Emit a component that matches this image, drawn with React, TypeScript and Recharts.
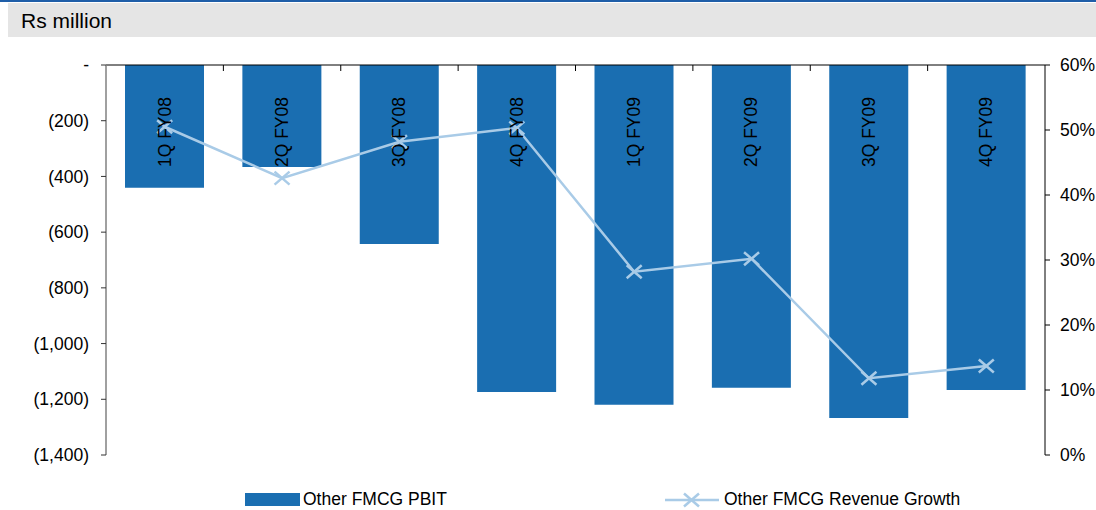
import React from 'react'
import {
  ComposedChart,
  Bar,
  Line,
  XAxis,
  YAxis,
  Legend,
  LabelList,
} from 'recharts'

const quarters = ['1Q FY08', '2Q FY08', '3Q FY08', '4Q FY08', '1Q FY09', '2Q FY09', '3Q FY09', '4Q FY09']
const pbit = [-441, -366, -643, -1174, -1220, -1159, -1267, -1167]
const revenueGrowth = [50.5, 42.6, 48.2, 50.3, 28.2, 30.2, 11.8, 13.7]
const leftTicks = [-1400, -1200, -1000, -800, -600, -400, -200, 0]
const rightTicks = [0, 10, 20, 30, 40, 50, 60]

const data = quarters.map((name, i) => ({
  name,
  pbit: pbit[i],
  growth: revenueGrowth[i],
}))

const BAR_BLUE = '#1a6eb1'
const LINE_BLUE = '#a9cbe7'
const FONT = '"Liberation Sans", Arial, sans-serif'
const BAND = (1045 - 106) / quarters.length

const fmtLeft = (v: number) => {
  if (v === 0) return '-'
  const s = Math.abs(v).toLocaleString('en-US')
  return v < 0 ? `(${s})` : s
}

const CrossDot = (props: any) => {
  const { cx, cy } = props
  if (cx == null || cy == null) return null
  const w = 7.5
  const h = 6.5
  return (
    <g stroke={LINE_BLUE} strokeWidth={2.5}>
      <line x1={cx - w} y1={cy - h} x2={cx + w} y2={cy + h} />
      <line x1={cx - w} y1={cy + h} x2={cx + w} y2={cy - h} />
    </g>
  )
}

const BoundaryTick = (props: any) => {
  const { x, y, index } = props
  if (index === 0) return null
  const bx = x - BAND / 2
  return <line x1={bx} y1={y} x2={bx} y2={y + 6} stroke="#000" strokeWidth={1} />
}

const QuarterLabel = (props: any) => {
  const { x, y, width, height, value } = props
  const top = Math.min(y, y + height)
  const cx = x + width / 2
  return (
    <text
      x={cx + 6}
      y={top + 32}
      transform={`rotate(-90 ${cx + 6} ${top + 32})`}
      textAnchor="end"
      fontSize={17.5}
      fontFamily={FONT}
      fill="#000"
    >
      {value}
    </text>
  )
}

const LegendContent = () => (
  <div style={{ position: 'relative', width: 1096, height: 24, fontFamily: FONT, fontSize: 17.5, color: '#000' }}>
    <div style={{ position: 'absolute', left: 245, top: 6, width: 55, height: 13, background: BAR_BLUE }} />
    <div style={{ position: 'absolute', left: 303, top: 2, whiteSpace: 'nowrap' }}>Other FMCG PBIT</div>
    <svg style={{ position: 'absolute', left: 663, top: 3 }} width={58} height={20}>
      <line x1={2} y1={10} x2={56} y2={10} stroke={LINE_BLUE} strokeWidth={2.5} />
      <line x1={21} y1={3.5} x2={36} y2={16.5} stroke={LINE_BLUE} strokeWidth={2.5} />
      <line x1={21} y1={16.5} x2={36} y2={3.5} stroke={LINE_BLUE} strokeWidth={2.5} />
    </svg>
    <div style={{ position: 'absolute', left: 724, top: 2, whiteSpace: 'nowrap' }}>Other FMCG Revenue Growth</div>
  </div>
)

export default function App() {
  return (
    <div style={{ position: 'absolute', left: 0, top: 0, width: 1096, height: 510, background: '#fff', fontFamily: FONT }}>
      <div style={{ position: 'absolute', left: 0, top: 0, width: 1096, height: 2, background: '#1f5ea8' }} />
      <div style={{ position: 'absolute', left: 8, top: 3, width: 1088, height: 34, background: '#e5e5e5' }} />
      <div style={{ position: 'absolute', left: 21, top: 9, fontSize: 21, lineHeight: '24px', color: '#000', whiteSpace: 'nowrap' }}>Rs million</div>
      <div style={{ position: 'absolute', left: 0, top: 0 }}>
        <ComposedChart
          width={1096}
          height={510}
          data={data}
          margin={{ top: 35, right: 0, bottom: 55, left: 6 }}
        >
          <XAxis
            dataKey="name"
            xAxisId="x"
            orientation="top"
            height={30}
            axisLine={{ stroke: '#000', strokeWidth: 1 }}
            tickLine={false}
            tickSize={0}
            tickMargin={0}
            tick={<BoundaryTick />}
            interval={0}
          />
          <YAxis
            yAxisId="left"
            domain={[-1400, 0]}
            ticks={leftTicks}
            width={100}
            tickFormatter={fmtLeft}
            axisLine={{ stroke: '#808080', strokeWidth: 1.5 }}
            tickLine={{ stroke: '#333' }}
            tickSize={5}
            tickMargin={12}
            tick={{ fontSize: 17.5, fill: '#000', fontFamily: FONT }}
            allowDataOverflow
          />
          <YAxis
            yAxisId="right"
            orientation="right"
            domain={[0, 60]}
            ticks={rightTicks}
            width={51}
            tickFormatter={(v: number) => `${v}%`}
            axisLine={{ stroke: '#000', strokeWidth: 1 }}
            tickLine={{ stroke: '#000' }}
            tickSize={5}
            tickMargin={10}
            tick={{ fontSize: 17.5, fill: '#000', fontFamily: FONT, textAnchor: 'start' }}
          />
          <Bar
            dataKey="pbit"
            xAxisId="x"
            yAxisId="left"
            fill={BAR_BLUE}
            barSize={79}
            isAnimationActive={false}
          >
            <LabelList dataKey="name" content={<QuarterLabel />} />
          </Bar>
          <Line
            dataKey="growth"
            xAxisId="x"
            yAxisId="right"
            stroke={LINE_BLUE}
            strokeWidth={2.5}
            dot={<CrossDot />}
            activeDot={false}
            isAnimationActive={false}
          />
          <Legend
            layout="horizontal"
            verticalAlign="middle"
            align="center"
            content={<LegendContent />}
            wrapperStyle={{ position: 'absolute', left: 0, top: 487, width: 1096, height: 24 }}
          />
        </ComposedChart>
      </div>
    </div>
  )
}
